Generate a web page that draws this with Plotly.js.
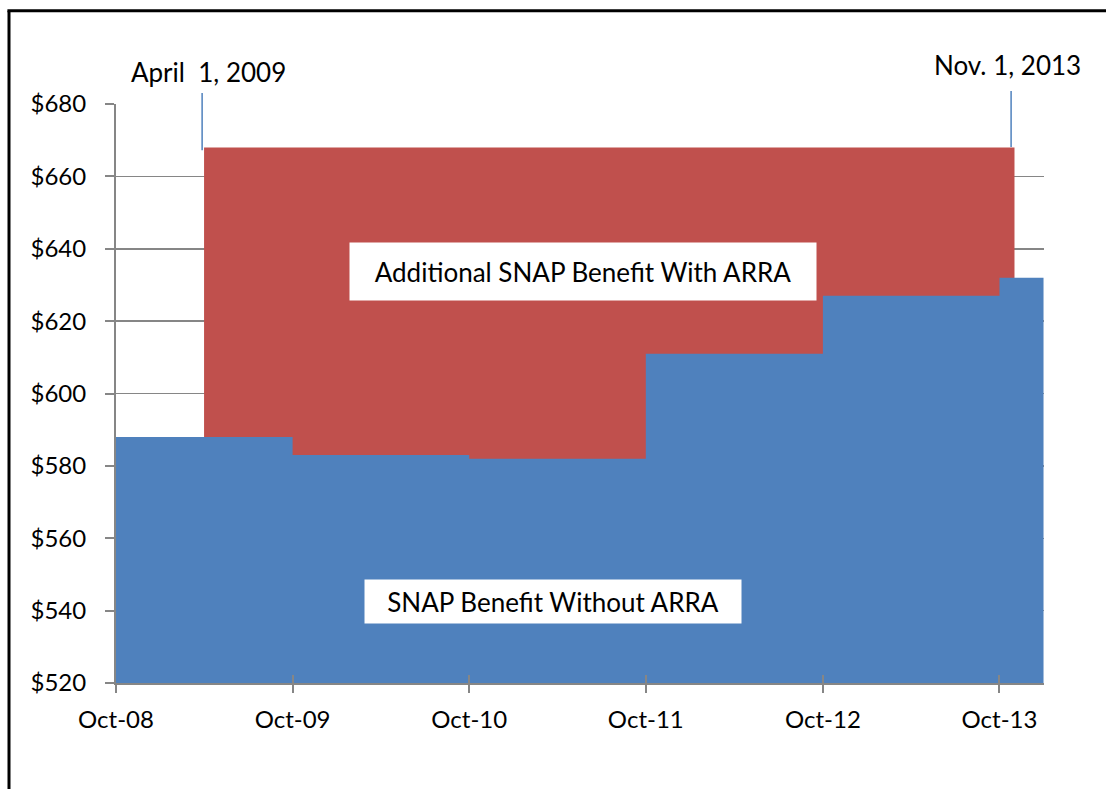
<!DOCTYPE html>
<html>
<head>
<meta charset="utf-8">
<script src="https://cdn.plot.ly/plotly-3.0.1.min.js"></script>
<style>
  html, body { margin: 0; padding: 0; background: #ffffff; }
  #chart { width: 1106px; height: 789px; }
</style>
</head>
<body>
<div id="chart"></div>
<script>
// Fiscal-year starts and SNAP maximum benefit (family of four) without ARRA
const fiscalYearStarts = ['2008-10-01', '2009-10-01', '2010-10-01', '2011-10-01', '2012-10-01', '2013-10-01'];
const seriesEnd = '2013-12-31';
const benefitWithoutARRA = [588, 583, 582, 611, 627, 632];

// ARRA period and benefit level with ARRA
const arraDates = ['2009-04-01', '2013-11-01'];
const benefitWithARRA = [668, 668];

// Labels
const arraStartLabel = 'April  1, 2009';
const arraEndLabel = 'Nov. 1, 2013';
const withArraLabel = 'Additional SNAP Benefit With ARRA';
const withoutArraLabel = 'SNAP Benefit Without ARRA';

const RED = '#C0504D';
const BLUE = '#4F81BD';
const GRAY = '#868686';
const FONT = 'Lato, "Open Sans", sans-serif';

const blueX = fiscalYearStarts.concat([seriesEnd]);
const blueY = benefitWithoutARRA.concat([benefitWithoutARRA[benefitWithoutARRA.length - 1]]);

const traces = [
  {
    x: arraDates, y: benefitWithARRA, type: 'scatter', mode: 'lines',
    line: { width: 0, color: RED, shape: 'hv' },
    fill: 'tozeroy', fillcolor: RED, hoverinfo: 'skip', showlegend: false
  },
  {
    x: blueX, y: blueY, type: 'scatter', mode: 'lines',
    line: { width: 0, color: BLUE, shape: 'hv' },
    fill: 'tozeroy', fillcolor: BLUE, hoverinfo: 'skip', showlegend: false
  },
  {
    x: [fiscalYearStarts[0]], y: [null], xaxis: 'x2', type: 'scatter', mode: 'lines',
    hoverinfo: 'skip', showlegend: false
  }
];

const layout = {
  width: 1106, height: 789,
  margin: { l: 116, r: 62, t: 104, b: 106 },
  paper_bgcolor: '#ffffff', plot_bgcolor: '#ffffff',
  font: { family: FONT, size: 24, color: '#000000' },
  showlegend: false,
  xaxis: {
    type: 'date',
    range: ['2008-10-01', '2014-01-01'],
    tick0: '2008-10-01', dtick: 'M12', tickformat: '%b-%y',
    showgrid: false, zeroline: false,
    showline: true, linecolor: GRAY, linewidth: 2,
    ticks: 'outside', ticklen: 8, tickwidth: 2, tickcolor: GRAY,
    ticklabelstandoff: 6,
    tickfont: { family: FONT, size: 24, color: '#000000' },
    fixedrange: true
  },
  xaxis2: {
    type: 'date', overlaying: 'x', matches: 'x', anchor: 'y', side: 'bottom',
    tick0: '2008-10-01', dtick: 'M12',
    showgrid: false, zeroline: false, showline: false, showticklabels: false,
    ticks: 'inside', ticklen: 8, tickwidth: 2, tickcolor: GRAY
  },
  yaxis: {
    range: [520, 680], dtick: 20, tickprefix: '$',
    showgrid: true, gridcolor: GRAY, gridwidth: 1.5,
    zeroline: false,
    showline: true, linecolor: GRAY, linewidth: 2,
    ticks: 'outside', ticklen: 9, tickwidth: 2, tickcolor: GRAY,
    ticklabelstandoff: 14,
    tickfont: { family: FONT, size: 24, color: '#000000' },
    fixedrange: true
  },
  shapes: [
    // marker lines for ARRA start and end
    { type: 'line', xref: 'x', yref: 'paper', x0: '2009-03-28', x1: '2009-03-28', y0: 1.019, y1: 0.920,
      line: { color: BLUE, width: 1.5 } },
    { type: 'line', xref: 'x', yref: 'paper', x0: '2013-10-25', x1: '2013-10-25', y0: 1.0225, y1: 0.9256,
      line: { color: BLUE, width: 1.5 } },
    // outer frame
    { type: 'line', xref: 'paper', yref: 'paper', x0: -0.1153, x1: -0.1153, y0: 1.1610, y1: -0.2,
      line: { color: '#000000', width: 3 } },
    { type: 'line', xref: 'paper', yref: 'paper', x0: -0.1170, x1: 1.08, y0: 1.1610, y1: 1.1610,
      line: { color: '#000000', width: 3 } }
  ],
  annotations: [
    { text: arraStartLabel, xref: 'x', yref: 'paper', x: arraDates[0], xshift: 4, y: 1.055,
      xanchor: 'center', yanchor: 'middle', showarrow: false,
      font: { family: FONT, size: 26, color: '#000000' } },
    { text: arraEndLabel, xref: 'x', yref: 'paper', x: '2013-10-25', xshift: -4, y: 1.0675,
      xanchor: 'center', yanchor: 'middle', showarrow: false,
      font: { family: FONT, size: 26, color: '#000000' } },
    { text: withArraLabel, xref: 'x', yref: 'y', x: '2011-05-24', y: 633.7,
      xanchor: 'center', yanchor: 'middle', showarrow: false,
      bgcolor: '#ffffff', width: 466, height: 57, borderpad: 0, align: 'center', valign: 'middle',
      font: { family: FONT, size: 26, color: '#000000' } },
    { text: withoutArraLabel, xref: 'x', yref: 'y', x: '2011-03-23', y: 542.65,
      xanchor: 'center', yanchor: 'middle', showarrow: false,
      bgcolor: '#ffffff', width: 376, height: 43, borderpad: 0, align: 'center', valign: 'middle',
      font: { family: FONT, size: 26, color: '#000000' } }
  ]
};

Plotly.newPlot('chart', traces, layout, { displayModeBar: false, staticPlot: true });
</script>
</body>
</html>
